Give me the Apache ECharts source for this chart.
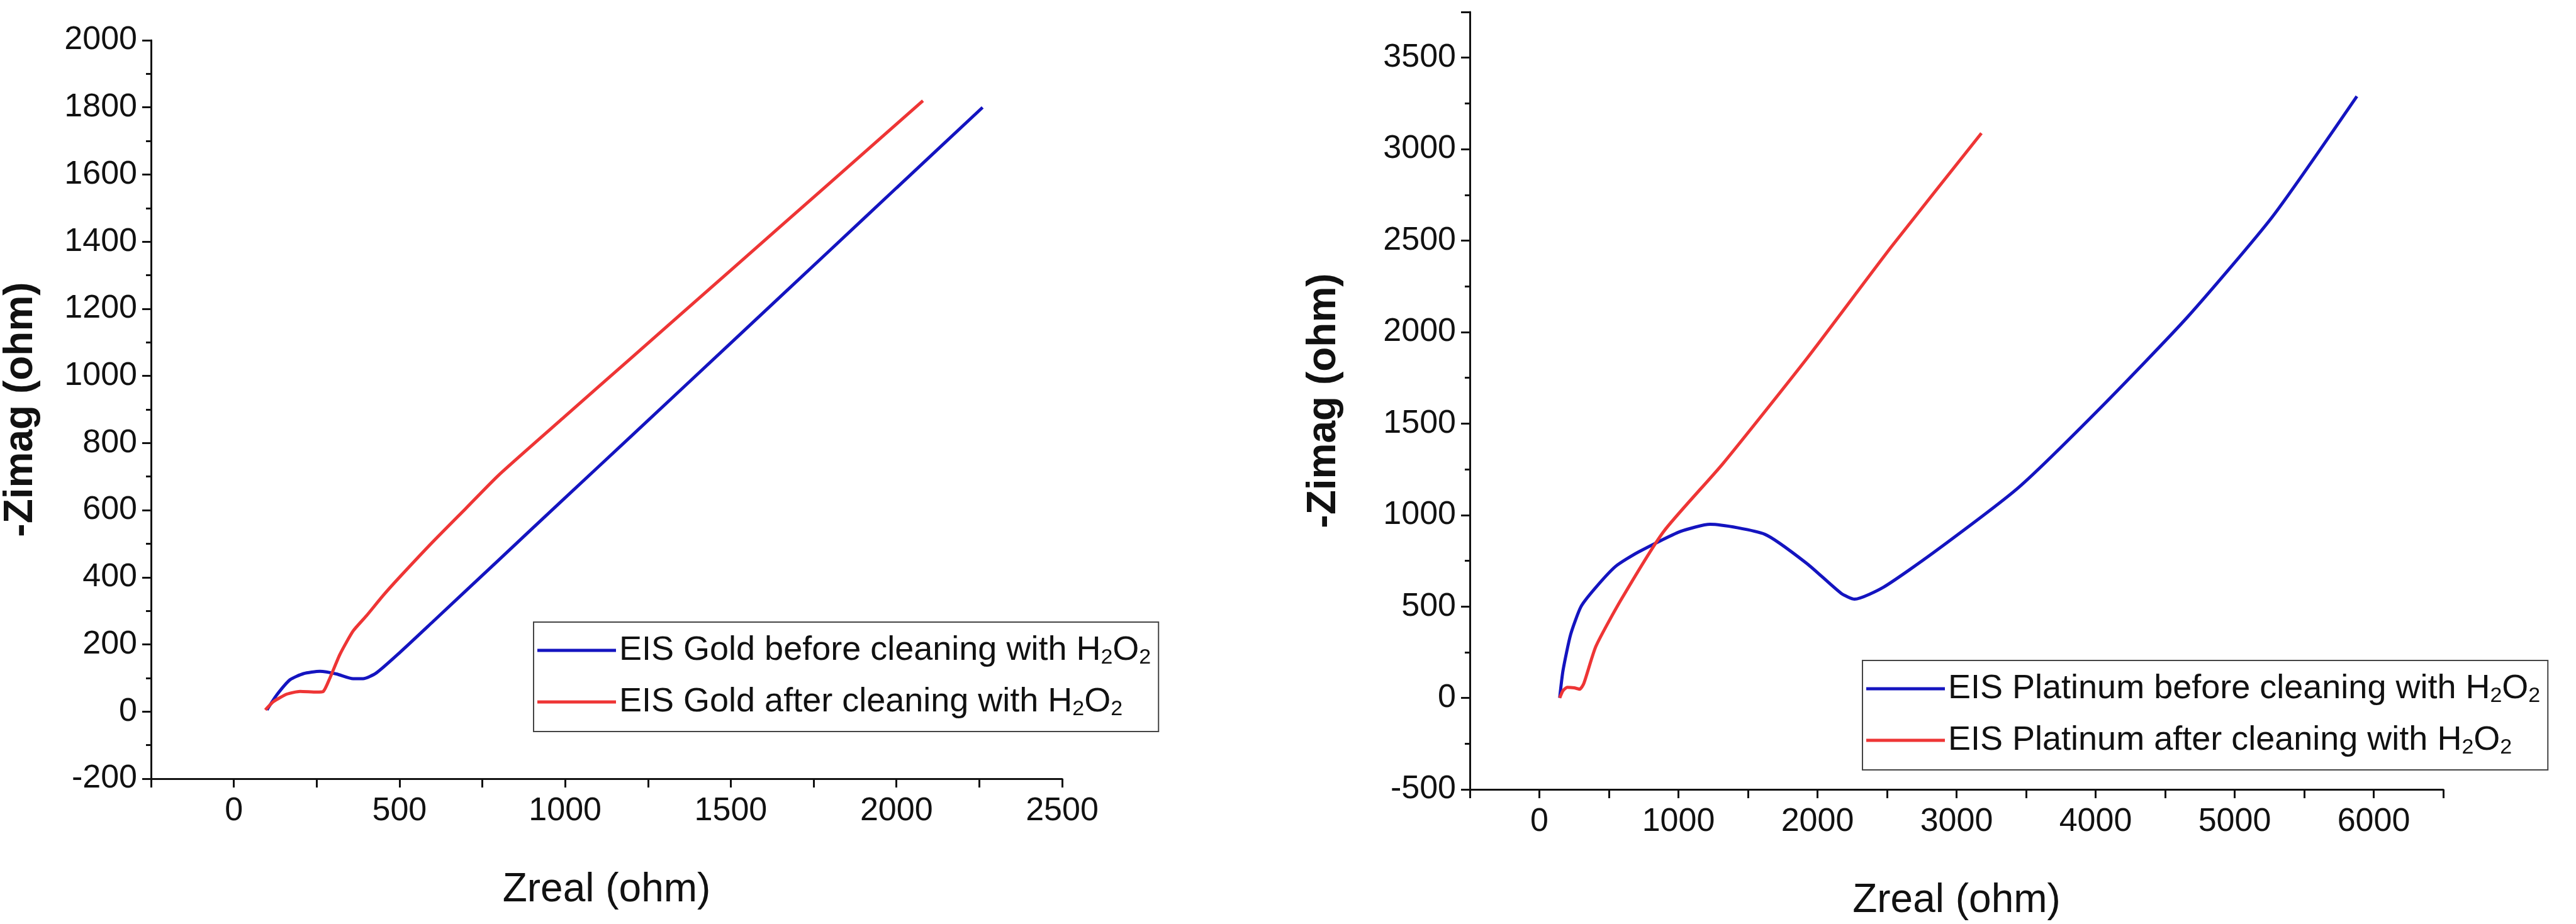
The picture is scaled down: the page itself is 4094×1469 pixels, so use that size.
<!DOCTYPE html>
<html>
<head>
<meta charset="utf-8">
<script src="https://cdn.jsdelivr.net/npm/echarts@6/dist/echarts.min.js"></script>
<style>
  html, body { margin: 0; padding: 0; background: #fff; }
  #chart { width: 4094px; height: 1469px; }
</style>
</head>
<body>
<div id="chart"></div>
<script>
// --- Data: [Zreal, -Zimag] in ohm ---
const goldBefore = [
  [100, 5], [130, 50], [170, 95], [210, 113], [260, 120], [310, 112], [360, 98],
  [390, 98], [430, 115], [500, 175], [600, 267], [800, 452], [1000, 637],
  [1200, 821], [1500, 1098], [1800, 1375], [2000, 1560], [2260, 1800]
];
const goldAfter = [
  [95, 5], [120, 30], [160, 52], [200, 60], [250, 58], [270, 60], [290, 100],
  [320, 170], [360, 240], [400, 285], [450, 345], [500, 400], [600, 505],
  [700, 605], [800, 705], [1000, 880], [1200, 1054], [1500, 1315], [1800, 1576],
  [2080, 1820]
];
const ptBefore = [
  [146, 0], [170, 150], [225, 347], [300, 500], [407, 605], [550, 720], [711, 797],
  [1015, 910], [1228, 949], [1623, 894], [1927, 733], [2170, 572], [2267, 540],
  [2474, 605], [2839, 797], [3447, 1151], [4055, 1601], [4663, 2084], [5271, 2630],
  [5879, 3289]
];
const ptAfter = [
  [146, 0], [170, 40], [200, 58], [250, 55], [290, 48], [320, 80], [407, 283],
  [590, 540], [894, 910], [1319, 1280], [1927, 1859], [2535, 2470], [3179, 3087]
];

const names = [
  'EIS Gold before cleaning with H2O2',
  'EIS Gold after cleaning with H2O2',
  'EIS Platinum before cleaning with H2O2',
  'EIS Platinum after cleaning with H2O2'
];

const FONT = '"Liberation Sans Narrow", "Liberation Sans", Arial, sans-serif';
const BLUE = '#1414C0';
const RED = '#EE3535';

const chart = echarts.init(document.getElementById('chart'), null, { renderer: 'canvas' });

function xAxisCfg(grid, min, max, interval, labelStep) {
  return {
    gridIndex: grid, type: 'value', min, max, interval,
    name: 'Zreal (ohm)', nameLocation: 'middle', nameGap: 145,
    nameTextStyle: { fontFamily: FONT, fontSize: 64, color: '#111' },
    axisLine: { onZero: false, lineStyle: { color: '#111', width: 3 } },
    axisTick: { length: 14, lineStyle: { color: '#111', width: 3 } },
    axisLabel: {
      margin: 26, fontFamily: FONT, fontSize: 52, color: '#111',
      formatter: v => (Math.round(v) % labelStep === 0 ? String(v) : '')
    },
    splitLine: { show: false }
  };
}

function yAxisCfg(grid, min, max, interval, nameGap) {
  return {
    gridIndex: grid, type: 'value', min, max, interval,
    name: '-Zimag (ohm)', nameLocation: 'middle', nameGap,
    nameTextStyle: { fontFamily: FONT, fontSize: 64, color: '#111', fontWeight: 'bold' },
    axisLine: { onZero: false, lineStyle: { color: '#111', width: 3 } },
    axisTick: { length: 14, lineStyle: { color: '#111', width: 3 } },
    minorTick: { show: true, splitNumber: 2, length: 8, lineStyle: { color: '#111', width: 3 } },
    axisLabel: {
      margin: 22, fontFamily: FONT, fontSize: 52, color: '#111',
      formatter: v => (Math.round(v) % interval === 0 ? String(v) : '')
    },
    splitLine: { show: false }
  };
}

const rich = { sub: { fontFamily: FONT, fontSize: 34, color: '#111', padding: [24, 0, 0, 0] } };
function legendFmt(n) { return n.replace('H2O2', 'H{sub|2}O{sub|2}'); }

function legendCfg(data, left, top) {
  return {
    data, left, top, orient: 'vertical',
    icon: 'rect', itemWidth: 125, itemHeight: 5, itemGap: 26,
    padding: [18, 12, 18, 6],
    borderColor: '#444', borderWidth: 2,
    textStyle: { fontFamily: FONT, fontSize: 54, color: '#111', rich },
    formatter: legendFmt
  };
}

function lineSeries(name, data, color, axis) {
  return {
    name, type: 'line', data, xAxisIndex: axis, yAxisIndex: axis,
    showSymbol: false, smooth: 0.2,
    lineStyle: { color, width: 5 }, itemStyle: { color }
  };
}

chart.setOption({
  backgroundColor: '#fff',
  animation: false,
  grid: [
    { left: 234, top: 64, right: 2406, bottom: 231 },
    { left: 2336, top: 19, right: 211, bottom: 202 }
  ],
  xAxis: [
    xAxisCfg(0, -250, 2500, 250, 500),
    xAxisCfg(1, -500, 6500, 500, 1000)
  ],
  yAxis: [
    yAxisCfg(0, -200, 2000, 200, 175),
    yAxisCfg(1, -500, 3750, 500, 200)
  ],
  legend: [
    legendCfg([names[0], names[1]], 848, 989),
    legendCfg([names[2], names[3]], 2960, 1050)
  ],
  series: [
    lineSeries(names[0], goldBefore, BLUE, 0),
    lineSeries(names[1], goldAfter, RED, 0),
    lineSeries(names[2], ptBefore, BLUE, 1),
    lineSeries(names[3], ptAfter, RED, 1)
  ]
});
</script>
</body>
</html>
